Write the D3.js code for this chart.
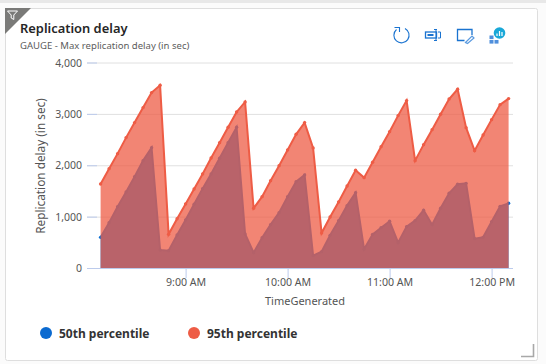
<!DOCTYPE html>
<html>
<head>
<meta charset="utf-8">
<script src="https://cdn.jsdelivr.net/npm/d3@7"></script>
<style>
html,body{margin:0;padding:0;background:#fff;width:546px;height:364px;overflow:hidden}
svg{display:block}
text{font-family:"Noto Sans","Open Sans",sans-serif}
</style>
</head>
<body>
<svg id="c" width="546" height="364"></svg>
<script>
const minutes = [490,495,500,505,510,515,520,525,530,535,540,545,550,555,560,565,570,575,580,585,590,595,600,605,610,615,620,625,630,635,640,645,650,655,660,665,670,675,680,685,690,695,700,705,710,715,720,725,730];
const p50 = [597,883,1194,1480,1778,2090,2343,350,337,642,935,1240,1545,1830,2135,2440,2739,662,299,590,844,1077,1389,1681,1811,240,318,636,922,1214,1467,363,655,785,909,493,805,922,1123,844,1162,1454,1629,1648,571,597,902,1200,1259];
const p95 = [1635,1934,2226,2538,2830,3122,3414,3556,655,960,1246,1538,1830,2142,2440,2739,3037,3232,1162,1389,1700,1992,2297,2602,2830,2336,681,993,1285,1596,1902,1759,2057,2362,2654,2966,3258,2090,2401,2693,2992,3290,3479,2732,2284,2589,2888,3180,3297];
const yTicks = [0,1000,2000,3000,4000];
const xTicks = [540,600,660,720];
const xTickLabels = ["9:00 AM","10:00 AM","11:00 AM","12:00 PM"];
const seriesNames = ["50th percentile","95th percentile"];

const svg = d3.select("#c");
const toDate = m => new Date(2021,0,1,Math.floor(m/60),m%60);
const x = d3.scaleTime().domain([toDate(490),toDate(730)]).range([100.6,508.6]);
const y = d3.scaleLinear().domain([0,4000]).range([268,62.5]);

svg.append("rect").attr("x",0).attr("y",0).attr("width",546).attr("height",3).attr("fill","#e8e8e8");
svg.append("rect").attr("x",0).attr("y",3).attr("width",546).attr("height",361).attr("fill","#fbfbfb");
svg.append("rect").attr("x",5.5).attr("y",8.5).attr("width",532).attr("height",352).attr("rx",2)
  .attr("fill","#fff").attr("stroke","#dedede");

svg.append("path").attr("d","M5 8H31L5 34Z").attr("fill","#7a7a78");
svg.append("path").attr("d","M7.5 11H17.5L13.8 15V19.5L11.2 18V15Z").attr("fill","none").attr("stroke","#fff").attr("stroke-width",1);

svg.append("text").attr("x",20).attr("y",33).attr("font-size",12.9).attr("font-weight",600).attr("fill","#262626").text("Replication delay");
svg.append("text").attr("x",20).attr("y",49).attr("font-size",9.55).attr("fill","#5c5c5c").text("GAUGE - Max replication delay (in sec)");

const blue="#1a73d0";
const ic = svg.append("g").attr("fill","none").attr("stroke",blue);
ic.append("path").attr("d","M396.5 29.5A7.6 7.6 0 1 0 405 28.5").attr("stroke-width",1.1);
ic.append("path").attr("d","M394.5 28H399.5V32.5").attr("stroke-width",1.1).attr("transform","translate(0,-0.5)");
ic.append("rect").attr("x",425.5).attr("y",32).attr("width",11).attr("height",6).attr("stroke-width",1.3);
ic.append("rect").attr("x",427.5).attr("y",34).attr("width",6).attr("height",2).attr("fill",blue).attr("stroke","none");
ic.append("path").attr("d","M434 29.5H437M434 40.5H437M436 29.5V40.5M438 32H440.5V38H438").attr("stroke-width",1);
ic.append("path").attr("d","M464.5 40.5H457.5V29.5H472V35").attr("stroke-width",1.3);
ic.append("path").attr("d","M465.5 42.5L472 36L474 38L467.5 43.5Z").attr("stroke","#5b9be0").attr("stroke-width",1.2);
const sq = svg.append("g").attr("fill","#4f8fdc");
[[489.5,35.5],[489.5,40],[494.5,40]].forEach(d=>sq.append("rect").attr("x",d[0]).attr("y",d[1]).attr("width",4).attr("height",3.6));
svg.append("circle").attr("cx",499.5).attr("cy",33).attr("r",5.8).attr("fill","#19a8d8");
svg.append("path").attr("d","M497 36V33.5M499.5 36V31M502 36V32").attr("stroke","#fff").attr("stroke-width",1.2);

const axisBlue="#bccbec";
svg.append("g").selectAll("line").data(yTicks).join("line")
  .attr("x1",87).attr("x2",513).attr("y1",d=>y(d)+.5).attr("y2",d=>y(d)+.5)
  .attr("stroke",d=>d===0?axisBlue:"#e0e0e0");
svg.append("g").selectAll("line").data(yTicks).join("line")
  .attr("x1",87).attr("x2",97).attr("y1",d=>y(d)+.5).attr("y2",d=>y(d)+.5).attr("stroke",axisBlue);

const yAxis = d3.axisLeft(y).tickValues(yTicks).tickFormat(d3.format(",")).tickSize(0).tickPadding(0);
const gy = svg.append("g").attr("transform","translate(82,0)").call(yAxis);
gy.select(".domain").remove();
gy.selectAll("text").attr("font-size",10.5).attr("fill","#555").attr("dy","0.35em");

const xAxis = d3.axisBottom(x).tickValues(xTicks.map(toDate)).tickFormat((d,i)=>xTickLabels[i]).tickSize(10).tickPadding(0);
const gx = svg.append("g").attr("transform","translate(0,268)").call(xAxis);
gx.select(".domain").remove();
gx.selectAll("line").attr("stroke",axisBlue);
gx.selectAll("text").attr("font-size",10.6).attr("fill","#555").attr("y",10.5).attr("dy","0.71em");

svg.append("text").attr("x",305).attr("y",305).attr("text-anchor","middle").attr("font-size",11).attr("fill","#555").text("TimeGenerated");
svg.append("text").attr("transform","translate(45,166) rotate(-90)").attr("text-anchor","middle").attr("font-size",11.8).attr("fill","#555").text("Replication delay (in sec)");

const area = d3.area().x((d,i)=>x(toDate(minutes[i]))).y0(y(0)).y1(d=>y(d));
const line = d3.line().x((d,i)=>x(toDate(minutes[i]))).y(d=>y(d));

function draw(vals,color,fillOp){
  const g = svg.append("g");
  g.append("path").datum(vals).attr("d",area).attr("fill",color).attr("fill-opacity",fillOp);
  g.append("path").datum(vals).attr("d",line).attr("fill","none").attr("stroke",color).attr("stroke-width",2);
  g.selectAll("circle").data(vals).join("circle")
    .attr("cx",(d,i)=>x(toDate(minutes[i]))).attr("cy",d=>y(d)).attr("r",1.7).attr("fill",color);
}
draw(p50,"#0b6fd2",0.92);
draw(p95,"#ee5c45",0.75);

const legendX=[46,194], colors=["#0b6ad0","#ee5c45"];
seriesNames.forEach((n,i)=>{
  svg.append("circle").attr("cx",legendX[i]).attr("cy",333).attr("r",6).attr("fill",colors[i]);
  svg.append("text").attr("x",legendX[i]+13).attr("y",337.5).attr("font-size",12).attr("font-weight",700).attr("fill","#333").text(n);
});

svg.append("path").attr("d","M533.5 344V356.5H521").attr("fill","none").attr("stroke","#a8a8a8").attr("stroke-width",1.6);
</script>
</body>
</html>
